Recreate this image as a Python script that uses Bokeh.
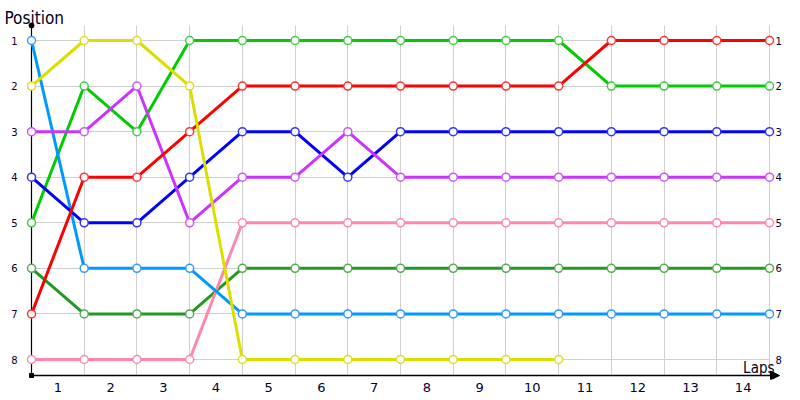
from bokeh.plotting import figure
from bokeh.models import Range1d, LinearAxis, FixedTicker, Label, Arrow, NormalHead
from bokeh.embed import file_html
from bokeh.resources import INLINE

laps = list(range(15))
lap_labels = [str(i) for i in range(1, 15)]
positions = list(range(1, 9))

pos_lightblue = [1, 6, 6, 6, 7, 7, 7, 7, 7, 7, 7, 7, 7, 7, 7]
pos_yellow = [2, 1, 1, 2, 8, 8, 8, 8, 8, 8, 8]
pos_purple = [3, 3, 2, 5, 4, 4, 3, 4, 4, 4, 4, 4, 4, 4, 4]
pos_blue = [4, 5, 5, 4, 3, 3, 4, 3, 3, 3, 3, 3, 3, 3, 3]
pos_green = [5, 2, 3, 1, 1, 1, 1, 1, 1, 1, 1, 2, 2, 2, 2]
pos_darkgreen = [6, 7, 7, 7, 6, 6, 6, 6, 6, 6, 6, 6, 6, 6, 6]
pos_red = [7, 4, 4, 3, 2, 2, 2, 2, 2, 2, 2, 1, 1, 1, 1]
pos_pink = [8, 8, 8, 8, 5, 5, 5, 5, 5, 5, 5, 5, 5, 5, 5]

series = [
    (pos_darkgreen, "#229922", "#55aa55"),
    (pos_green, "#00cc00", "#44cc44"),
    (pos_pink, "#ff88aa", "#ff88aa"),
    (pos_lightblue, "#0099ff", "#3399ff"),
    (pos_blue, "#0000ff", "#3333ff"),
    (pos_purple, "#cc33ff", "#cc55ff"),
    (pos_red, "#ff0000", "#ff3333"),
    (pos_yellow, "#dddd00", "#dddd22"),
]

# frame geometry (pixels): left 0, right 790, top 0, bottom 379
PX_X = (769 - 31) / 14.0
PX_Y = (359 - 40) / 7.0
x_start = -31 / PX_X
x_end = 14 + 21 / PX_X
y_top = 1 - 40 / PX_Y
y_bot = 8 + 20 / PX_Y
y_axis = 8 + 16 / PX_Y      # x-axis line level
y_axis_top = 1 - 15 / PX_Y  # top of y-axis line

p = figure(width=800, height=400, output_backend="svg", toolbar_location=None,
           x_range=Range1d(x_start, x_end), y_range=Range1d(y_bot, y_top),
           min_border_left=0, min_border_right=10, min_border_top=0, min_border_bottom=21,
           background_fill_color="white", border_fill_color="white", outline_line_color=None)

FONT = "DejaVu Sans"
TFONT = "DejaVu Sans Condensed"

xa = p.xaxis[0]
xa.ticker = FixedTicker(ticks=[i + 0.5 for i in range(14)])
xa.major_label_overrides = {i + 0.5: lap_labels[i] for i in range(14)}
xa.major_tick_line_color = None
xa.minor_tick_line_color = None
xa.axis_line_color = None
xa.major_label_text_font = FONT
xa.major_label_text_font_size = "13px"
xa.major_label_text_color = "#000033"
xa.major_label_standoff = -3

ya = p.yaxis[0]
ya.ticker = FixedTicker(ticks=positions)
ya.major_tick_line_color = None
ya.minor_tick_line_color = None
ya.axis_line_color = None
ya.major_label_text_font = FONT
ya.major_label_text_font_size = "10px"
ya.major_label_text_color = "#000033"
ya.major_label_standoff = -23

ra = LinearAxis(ticker=FixedTicker(ticks=positions))
ra.major_tick_line_color = None
ra.minor_tick_line_color = None
ra.axis_line_color = None
ra.major_label_text_font = FONT
ra.major_label_text_font_size = "10px"
ra.major_label_text_color = "#000033"
ra.major_label_standoff = -21
p.add_layout(ra, "right")

p.xgrid.ticker = FixedTicker(ticks=laps)
p.ygrid.ticker = FixedTicker(ticks=positions)
p.xgrid.grid_line_color = "#d0d0d0"
p.ygrid.grid_line_color = "#d0d0d0"
if "cross_bounds" in p.xgrid[0].properties():
    p.xgrid.cross_bounds = (y_axis_top, y_axis)
    p.ygrid.cross_bounds = (0, 14)

# axis lines
p.segment(x0=[0], y0=[y_axis_top], x1=[0], y1=[y_axis], line_color="black", line_width=1.2)
p.add_layout(Arrow(end=NormalHead(size=9, fill_color="black", line_color="black"),
                   x_start=0, y_start=y_axis, x_end=14 + 10 / PX_X, y_end=y_axis,
                   line_color="black", line_width=1.5))

for vals, col, mcol in series:
    p.line(laps[:len(vals)], vals, line_width=3, line_color=col)
for vals, col, mcol in series:
    p.scatter(laps[:len(vals)], vals, size=8, marker="circle", fill_color="white",
              line_color=mcol, line_width=1.5)

p.scatter([0], [y_axis_top], size=5, marker="circle", fill_color="black", line_color="black")
p.scatter([0], [y_axis], size=4, marker="square", fill_color="black", line_color="black")

p.add_layout(Label(x=0, y=y_axis_top, x_offset=-27, y_offset=8, text="Position",
                   text_font=TFONT, text_font_size="17px", text_color="#000022",
                   text_baseline="alphabetic", text_align="left"))
p.add_layout(Label(x=14, y=y_axis, x_offset=5, y_offset=8, text="Laps",
                   text_font=TFONT, text_font_size="15px", text_color="#000022",
                   text_baseline="alphabetic", text_align="right"))

open("out.html", "w").write(file_html(p, INLINE))
